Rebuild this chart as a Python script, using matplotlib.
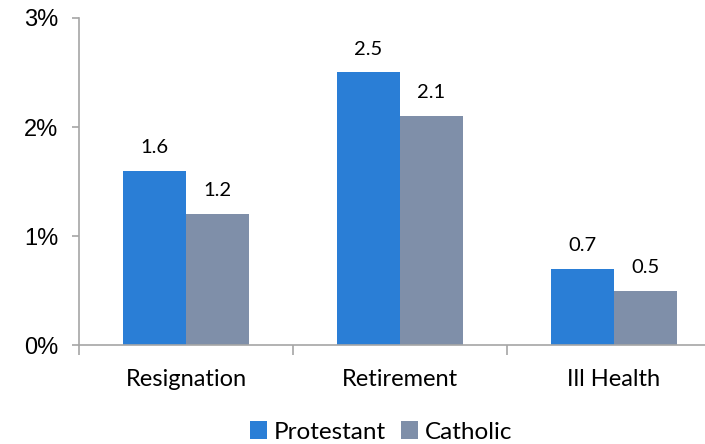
import matplotlib.pyplot as plt
import numpy as np
from matplotlib.patches import Patch

categories = ["Resignation", "Retirement", "Ill Health"]
protestant = [1.6, 2.5, 0.7]
catholic = [1.2, 2.1, 0.5]
y_ticks = [0, 1, 2, 3]
y_labels = ["0%", "1%", "2%", "3%"]

c_prot = "#2A7ED6"
c_cath = "#7F8FA9"
axis_col = "#A6A6A6"

fig = plt.figure(figsize=(7.05, 4.44), dpi=100)
# axes extends past the right edge like the original crop
ax = fig.add_axes([79 / 705, 99 / 444, 642 / 705, 327 / 444])

x = np.arange(len(categories))
w = 0.294
ax.bar(x - w / 2, protestant, w, color=c_prot)
ax.bar(x + w / 2, catholic, w, color=c_cath)

for xi, v in zip(x - w / 2, protestant):
    ax.text(xi, v + 0.165, f"{v:.1f}", ha="center", va="baseline",
            fontsize=14.5, family="Lato", color="black")
for xi, v in zip(x + w / 2, catholic):
    ax.text(xi, v + 0.165, f"{v:.1f}", ha="center", va="baseline",
            fontsize=14.5, family="Lato", color="black")

ax.set_xlim(-0.5, 2.5)
ax.set_ylim(0, 3)
ax.set_yticks(y_ticks)
ax.set_yticklabels(y_labels, family="Liberation Sans", fontsize=17)
ax.set_xticks([-0.5, 0.5, 1.5, 2.5])
ax.set_xticklabels([])
ax.set_xticks(x, minor=True)
ax.set_xticklabels(categories, minor=True, family="Lato", fontsize=17)
ax.tick_params(axis="x", which="minor", length=0, pad=17)
ax.tick_params(axis="x", which="major", length=7, color=axis_col, width=1.2)
ax.tick_params(axis="y", length=5, color=axis_col, width=1.2, pad=10)

for s in ["top", "right"]:
    ax.spines[s].set_visible(False)
for s in ["left", "bottom"]:
    ax.spines[s].set_color(axis_col)
    ax.spines[s].set_linewidth(1.2)

handles = [Patch(facecolor=c_prot, label="Protestant"),
           Patch(facecolor=c_cath, label="Catholic")]
fig.legend(handles=handles, loc="center", bbox_to_anchor=(381 / 705, 1 - 432 / 444),
           ncol=2, frameon=False, prop={"family": "Lato", "size": 17.5},
           handlelength=0.7, handleheight=0.7, handletextpad=0.3, columnspacing=0.6)

fig.savefig("out.png", dpi=100)
